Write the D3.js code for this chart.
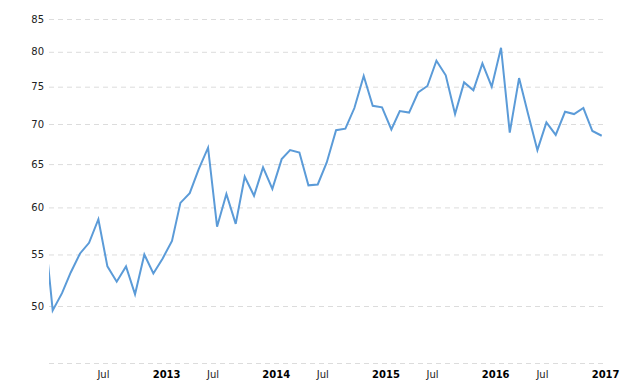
<!DOCTYPE html>
<html>
<head>
<meta charset="utf-8">
<script src="https://cdn.jsdelivr.net/npm/d3@7"></script>
<style>
  html, body { margin: 0; padding: 0; background: #fff; }
  #chart-container { width: 640px; height: 384px; }
  .tick text { font-family: Verdana, "DejaVu Sans", sans-serif; font-size: 10px; fill: #222; }
  .grid .tick line { stroke: #dcdcdc; stroke-dasharray: 5,4; }
  .year { font-weight: bold; fill: #000 !important; }
</style>
</head>
<body>
<div id="chart-container"></div>
<script>
(function() {
'use strict';

// monthly dates, Dec 2011 .. Jan 2017
const months = [
  '2011-12',
  '2012-01', '2012-02', '2012-03', '2012-04', '2012-05', '2012-06',
  '2012-07', '2012-08', '2012-09', '2012-10', '2012-11', '2012-12',
  '2013-01', '2013-02', '2013-03', '2013-04', '2013-05', '2013-06',
  '2013-07', '2013-08', '2013-09', '2013-10', '2013-11', '2013-12',
  '2014-01', '2014-02', '2014-03', '2014-04', '2014-05', '2014-06',
  '2014-07', '2014-08', '2014-09', '2014-10', '2014-11', '2014-12',
  '2015-01', '2015-02', '2015-03', '2015-04', '2015-05', '2015-06',
  '2015-07', '2015-08', '2015-09', '2015-10', '2015-11', '2015-12',
  '2016-01', '2016-02', '2016-03', '2016-04', '2016-05', '2016-06',
  '2016-07', '2016-08', '2016-09', '2016-10', '2016-11', '2016-12',
  '2017-01'
];

const values = [
  58.9,
  49.6, 51.2, 53.2, 55.1, 56.2, 58.7,
  53.8, 52.3, 53.8, 51.1, 55.0, 53.1,
  54.6, 56.4, 60.5, 61.6, 64.4, 67.0,
  57.9, 61.5, 58.2, 63.5, 61.3, 64.6,
  62.1, 65.6, 66.7, 66.4, 62.5, 62.6,
  65.2, 69.2, 69.4, 72.1, 76.5, 72.4,
  72.2, 69.3, 71.7, 71.5, 74.2, 75.1,
  78.7, 76.6, 71.3, 75.6, 74.5, 78.3,
  75.0, 80.6, 68.9, 76.2, 71.3, 66.7,
  70.2, 68.6, 71.6, 71.3, 72.1, 69.1,
  68.5
];

const gridValues = [45, 50, 55, 60, 65, 70, 75, 80, 85];
const yLabelValues = [50, 55, 60, 65, 70, 75, 80, 85];

const xTickDates = ['2012-07', '2013-01', '2013-07', '2014-01', '2014-07',
                    '2015-01', '2015-07', '2016-01', '2016-07', '2017-01'];
const xTickLabels = ['Jul', '2013', 'Jul', '2014', 'Jul',
                     '2015', 'Jul', '2016', 'Jul', '2017'];

const W = 640;
const H = 384;
const LEFT = 49;
const RIGHT = 603.5;
const TOP = 19;
const BOTTOM = 363;

const parseMonth = d3.timeParse('%Y-%m');

const xScale = d3.scaleTime()
                .domain([parseMonth('2012-01'), parseMonth('2017-01')])
                .range([52.7, 601.7]);

const yScale = d3.scaleLog()
                .domain([45, 85])
                .range([BOTTOM, TOP]);

const svg = d3.select('#chart-container')
              .append('svg')
                .attr('width', W)
                .attr('height', H);

svg.append('defs')
  .append('clipPath')
    .attr('id', 'plot-clip')
  .append('rect')
    .attr('x', LEFT)
    .attr('y', 0)
    .attr('width', RIGHT - LEFT)
    .attr('height', H);

// horizontal dashed grid + y labels
const yAxis = d3.axisLeft(yScale)
                .tickValues(gridValues)
                .tickSize(-(RIGHT - LEFT))
                .tickPadding(5)
                .tickFormat((d) => yLabelValues.includes(d) ? d : '');

svg.append('g')
  .attr('class', 'grid')
  .attr('transform', `translate(${LEFT}, 0)`)
  .call(yAxis)
  .call((g) => g.select('.domain').remove());

// x labels
const xAxis = d3.axisBottom(xScale)
                .tickValues(xTickDates.map(parseMonth))
                .tickSize(0)
                .tickFormat((d, i) => xTickLabels[i]);

const xg = svg.append('g')
  .attr('transform', `translate(0, ${BOTTOM})`)
  .call(xAxis)
  .call((g) => g.select('.domain').remove());

xg.selectAll('.tick text')
  .attr('text-anchor', 'start')
  .attr('x', -10.5)
  .attr('y', 15)
  .attr('dy', 0)
  .classed('year', (d, i) => xTickLabels[i] !== 'Jul');

const line = d3.line()
               .x((d, i) => xScale(parseMonth(months[i])))
               .y((d) => yScale(d));

svg.append('path')
  .datum(values)
  .attr('clip-path', 'url(#plot-clip)')
  .attr('fill', 'none')
  .attr('stroke', '#5b9bd8')
  .attr('stroke-width', 2)
  .attr('stroke-linejoin', 'miter')
  .attr('d', line);

})()
</script>
</body>
</html>
